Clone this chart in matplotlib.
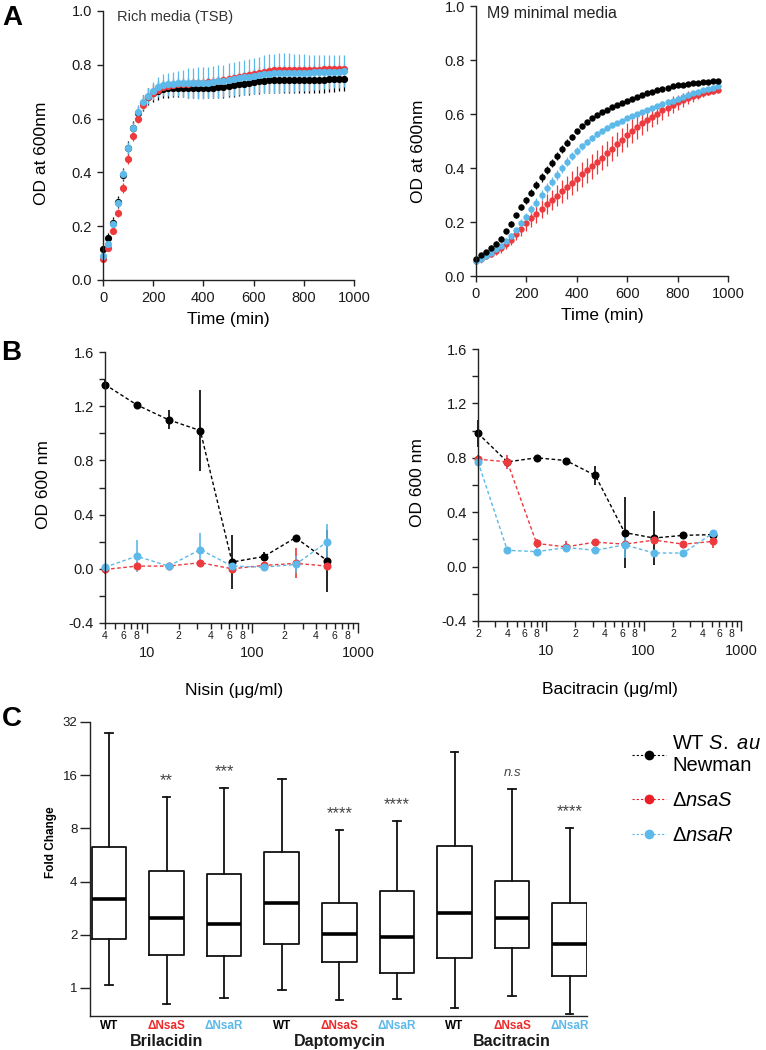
import matplotlib
matplotlib.use('Agg')
import matplotlib.pyplot as plt
from matplotlib.lines import Line2D
from matplotlib.ticker import FixedLocator, FuncFormatter, LogLocator, MultipleLocator, NullLocator
import matplotlib.transforms as mtransforms
import numpy as np

plt.rcParams['font.family'] = ['Liberation Sans', 'DejaVu Sans']
plt.rcParams['mathtext.fontset'] = 'custom'
plt.rcParams['mathtext.rm'] = 'Liberation Sans'
plt.rcParams['mathtext.it'] = 'Liberation Sans:italic'
plt.rcParams['mathtext.bf'] = 'Liberation Sans:bold'
plt.rcParams['axes.unicode_minus'] = False

BLACK = '#000000'
RED = '#EC3A3F'
BLUE = '#5DB9E9'
AXC = '#222222'

# ---------------- Panel A data ----------------
time_min = [0, 20, 40, 60, 80, 100, 120, 140, 160, 180, 200, 220, 240, 260, 280, 300,
            320, 340, 360, 380, 400, 420, 440, 460, 480, 500, 520, 540, 560, 580, 600,
            620, 640, 660, 680, 700, 720, 740, 760, 780, 800, 820, 840, 860, 880, 900,
            920, 940, 960]

tsb_wt = [0.114, 0.157, 0.213, 0.290, 0.392, 0.490, 0.566, 0.620, 0.658, 0.682,
          0.695, 0.704, 0.710, 0.713, 0.714, 0.715, 0.715, 0.714, 0.713, 0.713,
          0.713, 0.714, 0.715, 0.717, 0.719, 0.721, 0.724, 0.727, 0.730, 0.733,
          0.735, 0.738, 0.740, 0.742, 0.743, 0.744, 0.744, 0.744, 0.743, 0.742,
          0.742, 0.742, 0.743, 0.744, 0.745, 0.746, 0.747, 0.748, 0.749]
tsb_wt_err = [0.012, 0.018, 0.020, 0.022, 0.025, 0.025, 0.025, 0.025, 0.028, 0.030,
              0.032, 0.034, 0.035, 0.035, 0.035, 0.035, 0.036, 0.037, 0.038, 0.038,
              0.038, 0.039, 0.040, 0.040, 0.041, 0.042, 0.043, 0.044, 0.044, 0.045,
              0.045, 0.046, 0.046, 0.047, 0.047, 0.048, 0.048, 0.048, 0.048, 0.048,
              0.048, 0.048, 0.048, 0.048, 0.048, 0.047, 0.047, 0.047, 0.047]
tsb_nsaS = [0.077, 0.118, 0.182, 0.250, 0.342, 0.450, 0.534, 0.600, 0.652, 0.680,
            0.697, 0.708, 0.716, 0.722, 0.726, 0.728, 0.729, 0.730, 0.731, 0.732,
            0.733, 0.735, 0.737, 0.740, 0.743, 0.747, 0.751, 0.755, 0.759, 0.763,
            0.767, 0.771, 0.774, 0.777, 0.779, 0.780, 0.781, 0.781, 0.781, 0.781,
            0.781, 0.781, 0.782, 0.782, 0.783, 0.783, 0.784, 0.785, 0.786]
tsb_nsaS_err = [0.008, 0.010, 0.012, 0.015, 0.018, 0.018, 0.016, 0.015, 0.015, 0.015,
                0.015, 0.015, 0.015, 0.015, 0.015, 0.015, 0.015, 0.015, 0.015, 0.015,
                0.016, 0.016, 0.017, 0.017, 0.018, 0.018, 0.018, 0.019, 0.019, 0.019,
                0.020, 0.020, 0.020, 0.020, 0.020, 0.020, 0.020, 0.020, 0.020, 0.020,
                0.020, 0.020, 0.020, 0.020, 0.020, 0.020, 0.020, 0.020, 0.020]
tsb_nsaR = [0.090, 0.135, 0.210, 0.288, 0.393, 0.492, 0.566, 0.625, 0.660, 0.683,
            0.703, 0.716, 0.724, 0.728, 0.730, 0.731, 0.732, 0.732, 0.732, 0.732,
            0.733, 0.734, 0.736, 0.738, 0.741, 0.744, 0.747, 0.750, 0.753, 0.756,
            0.759, 0.762, 0.765, 0.767, 0.769, 0.770, 0.771, 0.771, 0.771, 0.771,
            0.771, 0.771, 0.772, 0.772, 0.773, 0.773, 0.774, 0.775, 0.776]
tsb_nsaR_err = [0.010, 0.012, 0.015, 0.018, 0.020, 0.022, 0.022, 0.025, 0.028, 0.030,
                0.033, 0.037, 0.040, 0.043, 0.045, 0.047, 0.050, 0.055, 0.057, 0.058,
                0.059, 0.059, 0.060, 0.060, 0.060, 0.061, 0.062, 0.063, 0.064, 0.065,
                0.066, 0.068, 0.070, 0.072, 0.073, 0.073, 0.073, 0.072, 0.071, 0.070,
                0.068, 0.067, 0.066, 0.065, 0.064, 0.063, 0.062, 0.061, 0.060]

m9_wt = [0.063, 0.076, 0.090, 0.104, 0.118, 0.137, 0.165, 0.193, 0.225, 0.256,
         0.281, 0.309, 0.338, 0.365, 0.394, 0.420, 0.446, 0.470, 0.494, 0.515,
         0.536, 0.555, 0.570, 0.584, 0.596, 0.607, 0.616, 0.625, 0.634, 0.642,
         0.650, 0.657, 0.664, 0.670, 0.677, 0.683, 0.688, 0.693, 0.698, 0.702,
         0.706, 0.709, 0.712, 0.714, 0.716, 0.718, 0.720, 0.721, 0.722]
m9_wt_err = [0.006, 0.008, 0.008, 0.009, 0.010, 0.010, 0.010, 0.010, 0.010, 0.012,
             0.013, 0.014, 0.015, 0.015, 0.015, 0.015, 0.015, 0.014, 0.013, 0.012,
             0.010, 0.009, 0.008, 0.008, 0.007, 0.007, 0.007, 0.006, 0.006, 0.006,
             0.006, 0.006, 0.006, 0.006, 0.006, 0.006, 0.006, 0.006, 0.006, 0.006,
             0.006, 0.006, 0.006, 0.006, 0.006, 0.006, 0.006, 0.006, 0.006]
m9_nsaS = [0.055, 0.063, 0.073, 0.083, 0.093, 0.103, 0.118, 0.135, 0.155, 0.175,
           0.195, 0.213, 0.230, 0.248, 0.266, 0.282, 0.298, 0.313, 0.328, 0.344,
           0.360, 0.376, 0.392, 0.406, 0.422, 0.438, 0.455, 0.472, 0.489, 0.505,
           0.521, 0.537, 0.552, 0.565, 0.577, 0.589, 0.601, 0.613, 0.624, 0.634,
           0.643, 0.652, 0.660, 0.666, 0.672, 0.677, 0.682, 0.686, 0.690]
m9_nsaS_err = [0.008, 0.008, 0.010, 0.012, 0.014, 0.016, 0.018, 0.020, 0.022, 0.025,
               0.027, 0.030, 0.032, 0.034, 0.036, 0.038, 0.040, 0.042, 0.044, 0.045,
               0.046, 0.046, 0.046, 0.046, 0.046, 0.046, 0.046, 0.046, 0.045, 0.045,
               0.044, 0.044, 0.043, 0.042, 0.040, 0.038, 0.037, 0.035, 0.033, 0.031,
               0.028, 0.026, 0.024, 0.021, 0.018, 0.015, 0.013, 0.011, 0.010]
m9_nsaR = [0.055, 0.062, 0.074, 0.087, 0.099, 0.110, 0.128, 0.148, 0.170, 0.197,
           0.220, 0.247, 0.271, 0.300, 0.325, 0.350, 0.374, 0.399, 0.423, 0.444,
           0.463, 0.481, 0.497, 0.512, 0.526, 0.538, 0.549, 0.558, 0.566, 0.575,
           0.584, 0.593, 0.601, 0.608, 0.615, 0.621, 0.628, 0.636, 0.643, 0.650,
           0.657, 0.664, 0.671, 0.677, 0.683, 0.688, 0.693, 0.698, 0.702]
m9_nsaR_err = [0.010, 0.012, 0.012, 0.012, 0.012, 0.012, 0.012, 0.012, 0.013, 0.014,
               0.015, 0.016, 0.017, 0.018, 0.018, 0.018, 0.018, 0.017, 0.016, 0.015,
               0.014, 0.013, 0.012, 0.011, 0.010, 0.010, 0.009, 0.009, 0.008, 0.008,
               0.008, 0.008, 0.008, 0.008, 0.008, 0.008, 0.008, 0.008, 0.008, 0.008,
               0.008, 0.008, 0.008, 0.008, 0.008, 0.008, 0.008, 0.008, 0.008]

# ---------------- Panel B data ----------------
nisin_conc = [4, 8, 16, 32, 64, 128, 256, 512]
nisin_wt = [1.36, 1.21, 1.10, 1.02, 0.05, 0.09, 0.23, 0.06]
nisin_wt_err = [0.03, 0.01, 0.07, 0.30, 0.20, 0.035, 0.01, 0.23]
nisin_nsaS = [-0.005, 0.02, 0.02, 0.045, 0.0, 0.025, 0.04, 0.02]
nisin_nsaS_err = [0.03, 0.03, 0.01, 0.01, 0.02, 0.01, 0.11, 0.01]
nisin_nsaR = [0.012, 0.093, 0.02, 0.142, 0.02, 0.012, 0.032, 0.20]
nisin_nsaR_err = [0.01, 0.118, 0.01, 0.12, 0.01, 0.01, 0.06, 0.13]

baci_conc = [2, 4, 8, 16, 32, 64, 128, 256, 512]
baci_wt = [0.98, 0.77, 0.80, 0.78, 0.67, 0.25, 0.21, 0.23, 0.235]
baci_wt_err = [0.10, 0.02, 0.01, 0.01, 0.07, 0.26, 0.20, 0.02, 0.01]
baci_nsaS = [0.79, 0.77, 0.17, 0.145, 0.18, 0.165, 0.195, 0.165, 0.185]
baci_nsaS_err = [0.03, 0.05, 0.03, 0.04, 0.01, 0.02, 0.02, 0.02, 0.05]
baci_nsaR = [0.77, 0.12, 0.11, 0.14, 0.12, 0.16, 0.10, 0.10, 0.245]
baci_nsaR_err = [0.01, 0.01, 0.01, 0.01, 0.01, 0.10, 0.01, 0.02, 0.01]

# ---------------- Panel C data ----------------
strain_labels = ['WT', 'ΔNsaS', 'ΔNsaR', 'WT', 'ΔNsaS', 'ΔNsaR', 'WT', 'ΔNsaS', 'ΔNsaR']
drug_labels = ['Brilacidin', 'Daptomycin', 'Bacitracin']
box_whislo = [1.04, 0.81, 0.88, 0.97, 0.855, 0.866, 0.77, 0.905, 0.71]
box_q1 = [1.89, 1.54, 1.52, 1.77, 1.41, 1.21, 1.48, 1.68, 1.17]
box_med = [3.2, 2.5, 2.31, 3.04, 2.02, 1.94, 2.65, 2.48, 1.77]
box_q3 = [6.3, 4.61, 4.43, 5.86, 3.02, 3.53, 6.39, 4.05, 3.04]
box_whishi = [27.6, 12.0, 13.5, 15.2, 7.83, 8.84, 21.7, 13.3, 8.07]
sig_labels = ['', '**', '***', '', '****', '****', '', 'n.s', '****']

legend_labels = ['WT $\\it{S.\\ au}$\nNewman', 'Δ$\\it{nsaS}$', 'Δ$\\it{nsaR}$']

W, H = 766, 1050
fig = plt.figure(figsize=(W / 100, H / 100), dpi=100)


def rect(x0, y0, x1, y1):
    return [x0 / W, 1 - y1 / H, (x1 - x0) / W, (y1 - y0) / H]


def style(ax):
    for s in ['top', 'right']:
        ax.spines[s].set_visible(False)
    for s in ['left', 'bottom']:
        ax.spines[s].set_linewidth(1.0)
        ax.spines[s].set_color(AXC)
    ax.tick_params(which='both', direction='out', width=1.0, colors=AXC,
                   labelcolor='#1a1a1a')
    ax.tick_params(which='major', length=4.5, labelsize=10.5)


# ---------------- Panel A ----------------
def growth(ax, series, ms, cap):
    for y, e, c in series:
        ax.errorbar(time_min, y, yerr=e, fmt='o', ms=ms, color=c, ecolor=c,
                    elinewidth=0.9, capsize=cap, capthick=0.9, clip_on=False,
                    mec=c, mew=0)
    ax.set_xlim(0, 1000)
    ax.set_ylim(0, 1.0)
    ax.xaxis.set_major_locator(MultipleLocator(200))
    ax.yaxis.set_major_locator(MultipleLocator(0.2))
    ax.yaxis.set_major_formatter(FuncFormatter(lambda v, p: f'{v:.1f}'))
    style(ax)
    ax.set_xlabel('Time (min)', fontsize=12.5, labelpad=5)
    ax.set_ylabel('OD at 600nm', fontsize=12.5)


axA1 = fig.add_axes(rect(103, 11, 354, 280))
growth(axA1, [(tsb_wt, tsb_wt_err, BLACK), (tsb_nsaS, tsb_nsaS_err, RED),
              (tsb_nsaR, tsb_nsaR_err, BLUE)], 5.2, 2.6)
axA1.text(0.056, 0.978, 'Rich media (TSB)', transform=axA1.transAxes, fontsize=10.5,
          color='#333333', va='center', ha='left')
axA1.yaxis.set_label_coords(-0.215, 0.47)

axA2 = fig.add_axes(rect(476, 6, 728, 276))
growth(axA2, [(m9_nsaS, m9_nsaS_err, RED), (m9_nsaR, m9_nsaR_err, BLUE),
              (m9_wt, m9_wt_err, BLACK)], 4.6, 2.4)
axA2.text(0.044, 0.974, 'M9 minimal media', transform=axA2.transAxes, fontsize=11.5,
          color='#222222', va='center', ha='left')
axA2.yaxis.set_label_coords(-0.2, 0.46)


# ---------------- Panel B ----------------
def minor_fmt(v, pos):
    m = v / 10 ** np.floor(np.log10(v) + 1e-9)
    d = int(round(m))
    return str(d) if d in (2, 4, 6, 8) else ''


def mic(ax, conc, series, xmin, xlabel):
    for y, e, c in series:
        ax.errorbar(conc, y, yerr=e, fmt='o', ls=(0, (2.6, 1.8)), lw=1.0, ms=5.8,
                    color=c, ecolor=c, elinewidth=1.2, capsize=2.8, capthick=1.1,
                    clip_on=False, mew=0)
    ax.set_xscale('log')
    ax.set_xlim(xmin, 1000)
    ax.set_ylim(-0.4, 1.6)
    ax.xaxis.set_major_locator(FixedLocator([10, 100, 1000]))
    ax.xaxis.set_major_formatter(FuncFormatter(lambda v, p: f'{int(round(v))}'))
    ax.xaxis.set_minor_locator(LogLocator(base=10, subs=range(2, 10), numticks=20))
    ax.xaxis.set_minor_formatter(FuncFormatter(minor_fmt))
    ax.yaxis.set_major_locator(MultipleLocator(0.4))
    ax.yaxis.set_minor_locator(MultipleLocator(0.2))
    ax.yaxis.set_major_formatter(FuncFormatter(lambda v, p: f'{v:.1f}'))
    style(ax)
    ax.tick_params(axis='y', which='minor', length=4.5)
    ax.tick_params(axis='x', which='major', length=7.5, pad=9, labelsize=10.5)
    ax.tick_params(axis='x', which='minor', length=4.0, pad=1.5, labelsize=7.5)
    ax.set_xlabel(xlabel, fontsize=12.5)
    ax.set_ylabel('OD 600 nm', fontsize=12.5)


axB1 = fig.add_axes(rect(105, 352, 358, 623))
mic(axB1, nisin_conc, [(nisin_wt, nisin_wt_err, BLACK), (nisin_nsaS, nisin_nsaS_err, RED),
                       (nisin_nsaR, nisin_nsaR_err, BLUE)], 4, 'Nisin (μg/ml)')
axB1.yaxis.set_label_coords(-0.215, 0.51)
axB1.xaxis.set_label_coords(0.51, -0.22)

axB2 = fig.add_axes(rect(478, 349, 741, 621))
mic(axB2, baci_conc, [(baci_wt, baci_wt_err, BLACK), (baci_nsaS, baci_nsaS_err, RED),
                      (baci_nsaR, baci_nsaR_err, BLUE)], 2, 'Bacitracin (μg/ml)')
axB2.yaxis.set_label_coords(-0.2, 0.51)
axB2.xaxis.set_label_coords(0.5, -0.225)

# ---------------- Panel C ----------------
axC = fig.add_axes(rect(90, 722, 587, 1016))
stats = []
for i in range(len(box_med)):
    stats.append(dict(med=box_med[i], q1=box_q1[i], q3=box_q3[i],
                      whislo=box_whislo[i], whishi=box_whishi[i], fliers=[]))
positions = list(range(len(stats)))
lp = dict(color='#111111', linewidth=1.3)
axC.bxp(stats, positions=positions, widths=0.6, showfliers=False,
        boxprops=lp, whiskerprops=lp, capprops=lp, capwidths=0.13,
        medianprops=dict(color='#000000', linewidth=2.6))
axC.set_yscale('log', base=2)
axC.set_ylim(0.694, 32)
axC.set_xlim(-0.33, 8.3)
axC.yaxis.set_major_locator(FixedLocator([1, 2, 4, 8, 16, 32]))
axC.yaxis.set_major_formatter(FuncFormatter(lambda v, p: f'{int(round(v))}'))
axC.yaxis.set_minor_locator(NullLocator())
style(axC)
axC.tick_params(axis='y', which='major', length=7, labelsize=9.5, pad=2)
axC.tick_params(axis='x', length=0, pad=3)
axC.set_xticks(positions)
axC.set_xticklabels(strain_labels, fontsize=8.5, fontweight='bold')
strain_colors = [BLACK, '#EE2A2A', BLUE] * 3
for lab, c in zip(axC.get_xticklabels(), strain_colors):
    lab.set_color(c)
axC.set_ylabel('Fold Change', fontsize=8.5, fontweight='bold')
axC.yaxis.set_label_coords(-0.066, 0.59)
trans = mtransforms.blended_transform_factory(axC.transData, axC.transAxes)
for g, name in enumerate(drug_labels):
    axC.text(3 * g + 1, -0.087, name, transform=trans, ha='center', va='center',
             fontsize=11.5, fontweight='bold', color='#1a1a1a')
for i, s in enumerate(sig_labels):
    if s:
        axC.text(positions[i], box_whishi[i] * 1.24, s, ha='center', va='center',
                 fontsize=12 if s != 'n.s' else 9.5, color='#444444',
                 style='italic' if s == 'n.s' else 'normal')

# legend
handles = [Line2D([], [], color=c, ls=(0, (2.0, 1.8)), lw=0.8, marker='o', ms=7, mew=0)
           for c in (BLACK, '#EE1C25', BLUE)]
fig.legend(handles, legend_labels, loc='upper left', bbox_to_anchor=(632 / W, 1 - 734 / H),
           frameon=False, fontsize=14.5, handlelength=1.7, handletextpad=0.3,
           labelspacing=0.8, borderpad=0, borderaxespad=0, numpoints=1)

# panel letters
for lab, (x, y) in zip(['A', 'B', 'C'], [(12, 18), (11, 353), (12, 719)]):
    fig.text(x / W, 1 - y / H, lab, fontsize=20, fontweight='bold', ha='center', va='center')

fig.savefig('out.png', dpi=100)
